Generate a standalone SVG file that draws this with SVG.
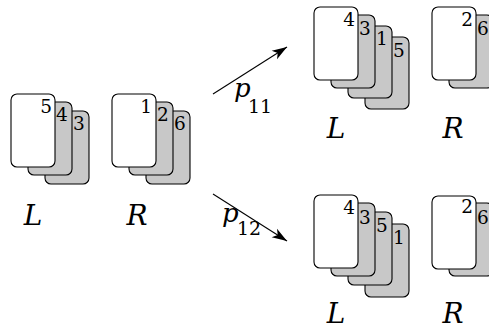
<svg xmlns="http://www.w3.org/2000/svg" width="489" height="329" viewBox="0 0 489 329">
<defs>
<style>
.c{stroke:#000;stroke-width:1.1}
.f{fill:#fff}
.s{fill:#c8c8c8}
text{font-family:"DejaVu Serif",serif;fill:#000}
.d{font-size:18.5px}
.lab{font-style:italic;font-size:28px;text-anchor:middle}
.p{font-style:italic;font-size:26px}
.sub{font-size:19px}
.e{text-anchor:end}
</style>
<marker id="ah" markerUnits="userSpaceOnUse" markerWidth="20" markerHeight="14" viewBox="-16 -7 17 14" refX="0" refY="0" orient="auto">
<path d="M0,0 L-15,-5 L-11,0 L-15,5 Z" fill="#000"/>
</marker>
</defs>

<g id="connectors">
<line x1="213" y1="94" x2="287" y2="47" stroke="#000" stroke-width="1.1" marker-end="url(#ah)"/>
<line x1="213" y1="194" x2="287" y2="241" stroke="#000" stroke-width="1.1" marker-end="url(#ah)"/>
<text class="p" x="234" y="97">p</text><text class="sub" x="248" y="113">11</text>
<text class="p" x="222" y="222">p</text><text class="sub" x="237" y="235">12</text>
</g>

<g id="left-L">
<rect class="c s" x="45" y="111" width="44" height="73" rx="6"/>
<rect class="c s" x="28" y="102" width="44" height="73" rx="6"/>
<rect class="c f" x="11" y="94" width="44" height="73" rx="6"/>
<text class="d e" x="52" y="113">5</text>
<text class="d" x="56" y="121">4</text>
<text class="d" x="73" y="130">3</text>
<text class="lab" x="33" y="225">L</text>
</g>

<g id="left-R">
<rect class="c s" x="146" y="111" width="44" height="73" rx="6"/>
<rect class="c s" x="129" y="102" width="44" height="73" rx="6"/>
<rect class="c f" x="112" y="94" width="44" height="73" rx="6"/>
<text class="d e" x="152" y="113">1</text>
<text class="d" x="157" y="121">2</text>
<text class="d" x="174" y="130">6</text>
<text class="lab" x="137" y="225">R</text>
</g>

<g id="top-L">
<rect class="c s" x="365" y="37" width="44" height="72" rx="6"/>
<rect class="c s" x="348" y="26" width="44" height="72" rx="6"/>
<rect class="c s" x="331" y="15" width="44" height="73" rx="6"/>
<rect class="c f" x="314" y="7" width="44" height="73" rx="6"/>
<text class="d e" x="355" y="26">4</text>
<text class="d" x="359" y="35">3</text>
<text class="d" x="376" y="45">1</text>
<text class="d" x="393" y="57">5</text>
<text class="lab" x="336" y="138">L</text>
</g>

<g id="top-R">
<rect class="c s" x="449" y="15" width="44" height="73" rx="6"/>
<rect class="c f" x="432" y="7" width="44" height="73" rx="6"/>
<text class="d e" x="473" y="26">2</text>
<text class="d" x="477" y="35">6</text>
<text class="lab" x="453" y="138">R</text>
</g>

<g id="bottom-L">
<rect class="c s" x="365" y="224" width="44" height="73" rx="6"/>
<rect class="c s" x="348" y="212" width="44" height="73" rx="6"/>
<rect class="c s" x="331" y="203" width="44" height="73" rx="6"/>
<rect class="c f" x="314" y="195" width="44" height="73" rx="6"/>
<text class="d e" x="355" y="214">4</text>
<text class="d" x="359" y="224">3</text>
<text class="d" x="376" y="232">5</text>
<text class="d" x="393" y="244">1</text>
<text class="lab" x="336" y="323">L</text>
</g>

<g id="bottom-R">
<rect class="c s" x="449" y="203" width="44" height="73" rx="6"/>
<rect class="c f" x="432" y="196" width="44" height="73" rx="6"/>
<text class="d e" x="473" y="213">2</text>
<text class="d" x="477" y="224">6</text>
<text class="lab" x="453" y="323">R</text>
</g>
</svg>
